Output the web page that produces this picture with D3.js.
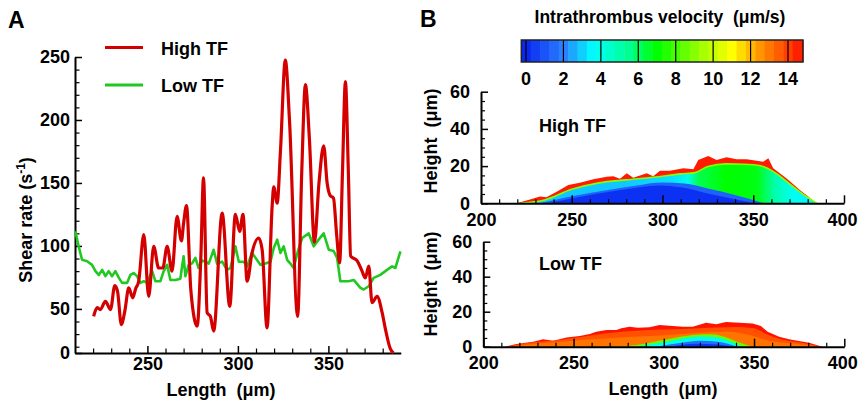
<!DOCTYPE html>
<html><head><meta charset="utf-8">
<script src="https://cdn.jsdelivr.net/npm/d3@7"></script>
<style>
body{margin:0;background:#fff;}
svg{display:block;font-family:"Liberation Sans",Arial,Helvetica,sans-serif;font-weight:bold;}
svg text{white-space:pre;}
</style></head><body>
<svg id="chart" width="858" height="400"></svg>
<script>
// ---------- Panel A data ----------
const highLength = [220.3,222.2,224,226.8,229.6,232,233.5,235.6,237.5,239.7,241.9,243.5,245.2,248,250.7,253.5,256.2,258.5,260.9,263.6,266.4,268.8,270,271.6,274,277.5,279.5,281,283,284.8,286.6,291.3,295.5,298.6,301,302.8,305.1,307.8,311.5,313.4,316.1,318.9,319.8,321.7,323.5,326.2,328.5,333,335.3,337.3,339.5,342.3,344.8,347.4,349.3,351,352.8,354.5,356.2,357.8,359.4,361,362.3,366,368.6,370.4,372.3,374.1,376.9,379.7,381.5,384.3,386];
const highShear  = [44,51,49.5,56,49.5,68.5,64,37.6,48,66.7,58.8,66,72,109,60,99.7,82.5,82.5,99.7,80,123.5,104,118,132,65,36.3,90,154,47,44,32.4,126,52,125,111.6,125,72,94.5,106.3,97,35,131,147,134,175,247.6,200,44,160,228,185,103,150,179.5,150,140,138,110,86.5,160,230.4,160,92,88,80,74.6,84,55,60,47,34,18,15];
const lowLength = [210.2,212,213.9,216.7,219.4,221.3,223.1,225,226.8,228.6,230.5,232.3,234.1,236,238.8,240.6,242.4,244.3,246.1,248,249.8,252.6,254.4,257.2,259,260.9,262.7,265.5,268.2,270,271,272.8,274.7,276.5,278.3,280.2,282,283.9,286.6,288.5,291.3,294,295.9,298.6,300.5,303.2,305.1,307.8,309.7,312.4,315.2,318,319.8,321.7,323.5,325.3,327.2,329,330.8,333,335.5,339.1,341.9,344.6,347.4,350.2,352.9,354.8,356.6,361.2,364,367.7,369.5,372.3,375,378.7,382.4,385.2,387,389.8];
const lowShear  = [111.6,99.7,89,87.8,85,80,77,81,76,80,76,80,75,70.7,70.7,77,78.5,76,70.7,72,70.7,80,72,72,80,85,73,73,74,91.8,76,85,86.2,90.5,82.5,88.5,87.5,86,97,86,87.5,81,82.5,99.7,87.5,87.5,83.8,94.5,90.6,85,86,87.5,98.4,105,94.5,99.7,89,86,82.5,95,106.3,110,99.7,105,110,97,96,90.5,72,72,73,66.7,65.4,68,74.6,77,81,83.8,82.5,95.7];
const seriesNames = ["High TF","Low TF"];
const lengthTicksA = [250,300,350];
const shearTickValues = [15,50,100,150,200,250];
const shearTickLabels = ["0","50","100","150","200","250"];

// ---------- Panel B data ([length, height]) ----------
const hiOuter = [[220.6,0],[220.6,0.3],[227,2.1],[232.5,3.6],[236,3.3],[241.7,6.2],[248.1,9.8],[254.5,11.1],[261.9,12.9],[269.3,14.3],[272.9,14.6],[276.6,13.2],[280.3,16.1],[283.9,13.7],[291.3,16.1],[294.9,14.6],[298.6,17.5],[304.1,17.5],[311.5,18.8],[317,18.3],[319.7,23.3],[325.2,25.4],[329.8,23.3],[335.3,24.7],[340.8,23.7],[346.3,23.7],[351.9,22.9],[355.5,22.4],[358.3,24.2],[361,18.8],[368.4,13.4],[375.7,7.2],[380.3,3.6],[384,0.3],[384,0]];
const hiInner = [[222,0],[235,1.8],[250,7.5],[265,11],[280,12.6],[295,14],[310,15.8],[318,16.5],[325,19.8],[335,21.2],[345,21],[354,20.2],[362,16.5],[370,10.5],[378,4.5],[385,0]];
const hiInnerVel = [[222,3.2],[245,2.9],[280,2.9],[305,3.2],[314,4],[320,6.2],[335,7],[352,6.8],[362,5],[372,3.8],[385,3.4]];
const hiHalo = [[232,0],[250,3.8],[270,7.2],[285,9.5],[300,11.2],[312,10.6],[325,8],[340,4.5],[350,1.8],[356,0]];
const hiCore = [[237,0],[252,3],[276,7],[298.6,9.6],[310,8.6],[326,5],[340.8,2],[350,0]];
const loOuter = [[212,0],[218.4,1.5],[227.6,2.9],[233.1,4.2],[238.7,3.4],[246.1,5.3],[253.4,6.1],[259,7.2],[262.6,8.6],[268.2,9.5],[273.7,9.5],[276.5,10.5],[281,11.4],[285.6,10.9],[292.1,11.1],[297.6,12.4],[305,11.8],[310.5,11.4],[316,11.4],[323.4,13.7],[329,12.9],[334.5,14.1],[341.8,13.7],[349.2,13.3],[353.8,11.8],[357.5,8.6],[363.9,5.7],[369.4,4.2],[374,3.4],[380.5,2.3],[387.8,0]];
const loMid = [[213,0],[225,2.3],[240,3.6],[252,5.2],[265,7.2],[280,8.8],[300,9.8],[320,10.6],[340,11.3],[350,10.5],[356,7.6],[365,4.3],[378,2],[388,0]];
const loInner = [[214,0],[230,1.8],[245,3],[260,4.2],[280,5.6],[300,6.6],[320,8],[335,8.6],[348,6.6],[358,3.4],[372,1.8],[387,0]];
const loLensOuter = [[266,0],[285,1],[298,3.5],[310,5.8],[318,6.9],[326,7.1],[334,5.6],[342,2.4],[349,0]];
const loLensMid = [[284,0],[300,2.5],[310,4.6],[320,5.8],[328,5.5],[336,3.3],[344,0]];
const loLensInner = [[296,0],[310,2.3],[320,3.4],[330,2.9],[341,0]];
const loLensCore = [[303,0],[318,1.7],[330,1.3],[339,0]];
const layerVel = {hiOuter:14.6, hiBand:9, hiHalo:1.3, hiCore:0.2, loOuter:14.7, loMid:13.7, loInner:13.1, loLensOuter:8.5, loLensMid:4, loLensInner:1.6, loLensCore:0.3};
const velocityTicks = [0,2,4,6,8,10,12,14];
const lengthTicksB = [200,250,300,350,400];
const heightTicksB = [0,20,40,60];

// colour map (Tecplot-like rainbow)
const velDomain = [0,2,3.6,5.5,7,9.5,11,12.5,14,15];
const velColors = ["#0a28f0","#2a80ff","#00ffff","#00ff90","#00ff00","#a8ff00","#ffff00","#ff9600","#ff4000","#ff0000"];
const vel = d3.scaleLinear().domain(velDomain).range(velColors).clamp(true);

const svg = d3.select("#chart");
const FONT = 18;

function styleAxis(g, sw){
  g.attr("font-family",null).attr("font-size",FONT).attr("font-weight","bold");
  g.selectAll(".domain").attr("stroke","#000").attr("stroke-width",2);
  g.selectAll(".tick line").attr("stroke","#000").attr("stroke-width",sw||1.5);
  g.selectAll(".tick text").attr("fill","#000");
}

// ================= PANEL A =================
const xA = d3.scaleLinear().domain([210,390]).range([75,400.8]);
const yA = d3.scaleLinear().domain([15,250]).range([353,57]);

svg.append("text").attr("x",8).attr("y",28).attr("font-size",23).text("A");

svg.append("g").attr("transform","translate(0,353)")
  .call(d3.axisBottom(xA).tickValues(d3.range(220,390,10).filter(v=>!lengthTicksA.includes(v))).tickSizeInner(-4.5).tickSizeOuter(0).tickFormat(""))
  .call(g=>{g.select(".domain").remove(); styleAxis(g,1.2);});
svg.append("g").attr("transform","translate(75,0)")
  .call(d3.axisLeft(yA).tickValues(d3.range(20,250,10).filter(v=>v%50!==0)).tickSizeInner(-4.5).tickSizeOuter(0).tickFormat(""))
  .call(g=>{g.select(".domain").remove(); styleAxis(g,1.2);});
svg.append("g").attr("transform","translate(0,353)")
  .call(d3.axisBottom(xA).tickValues(lengthTicksA).tickSizeInner(-7).tickSizeOuter(0).tickPadding(4).tickFormat(d3.format("d")))
  .call(g=>styleAxis(g));
svg.append("g").attr("transform","translate(75,0)")
  .call(d3.axisLeft(yA).tickValues(shearTickValues).tickSizeInner(-7).tickSizeOuter(0).tickPadding(5)
    .tickFormat(d=>shearTickLabels[shearTickValues.indexOf(d)]))
  .call(g=>styleAxis(g));

const lineA = d3.line().x(d=>xA(d[0])).y(d=>yA(d[1]));
const redCol = "#d40000", greenCol = "#22c822";
svg.append("path").datum(lowLength.map((v,i)=>[v,lowShear[i]]))
  .attr("d",lineA).attr("fill","none").attr("stroke",greenCol).attr("stroke-width",2.6).attr("stroke-linejoin","round");
svg.append("path").datum(highLength.map((v,i)=>[v,highShear[i]]))
  .attr("d",lineA.curve(d3.curveMonotoneX)).attr("fill","none").attr("stroke",redCol).attr("stroke-width",3.2).attr("stroke-linejoin","round");

const leg = svg.append("g");
[[redCol,47.5,55],[greenCol,85,91.7]].forEach((c,i)=>{
  leg.append("line").attr("x1",105).attr("x2",143).attr("y1",c[1]).attr("y2",c[1]).attr("stroke",c[0]).attr("stroke-width",3.2);
  leg.append("text").attr("x",161).attr("y",c[2]).attr("font-size",FONT).text(seriesNames[i]);
});

svg.append("text").attr("x",221).attr("y",396).attr("text-anchor","middle").attr("font-size",FONT).text("Length  (μm)");
const yt = svg.append("text").attr("transform","translate(32,220) rotate(-90)").attr("text-anchor","middle").attr("font-size",FONT);
yt.append("tspan").text("Shear rate (s");
yt.append("tspan").attr("font-size",12).attr("dy",-7).text("-1");
yt.append("tspan").attr("dy",7).text(")");

// ================= PANEL B =================
svg.append("text").attr("x",420).attr("y",27).attr("font-size",23).text("B");
svg.append("text").attr("x",660).attr("y",23).attr("text-anchor","middle").attr("font-size",17.5).text("Intrathrombus velocity  (μm/s)");

const cb = d3.scaleLinear().domain([0,14]).range([526,788]);
const cbTop = 40, cbH = 22;
const bandEdges = d3.range(-0.25,14.8,0.5).concat([14.8]);
const cbg = svg.append("g");
for(let i=0;i<bandEdges.length-1;i++){
  const a=bandEdges[i], b=bandEdges[i+1];
  cbg.append("rect").attr("x",cb(a)).attr("y",cbTop).attr("width",cb(b)-cb(a)+0.5).attr("height",cbH)
    .attr("fill",vel((a+b)/2));
}
cbg.selectAll("line.sep").data(velocityTicks).join("line").attr("class","sep")
  .attr("x1",d=>cb(d)).attr("x2",d=>cb(d)).attr("y1",cbTop).attr("y2",cbTop+cbH).attr("stroke","#000").attr("stroke-width",1.2);
cbg.append("rect").attr("x",cb(-0.25)).attr("y",cbTop).attr("width",cb(14.8)-cb(-0.25)).attr("height",cbH)
  .attr("fill","none").attr("stroke","#222").attr("stroke-width",1.5);
cbg.selectAll("text").data(velocityTicks).join("text").attr("x",d=>cb(d)).attr("y",85)
  .attr("text-anchor","middle").attr("font-size",FONT).text(d=>d);

function subplot(cfg){
  const x = d3.scaleLinear().domain([200,400]).range(cfg.xr);
  const y = d3.scaleLinear().domain([0,60]).range(cfg.yr);
  const g = svg.append("g");
  const area = d3.area().x(d=>x(d[0])).y0(y(0)).y1(d=>y(d[1]));
  const smooth = d3.area().x(d=>x(d[0])).y0(y(0)).y1(d=>y(d[1])).curve(d3.curveMonotoneX);
  cfg.draw(g, x, y, area, smooth);
  g.append("g").attr("transform",`translate(0,${cfg.yr[0]})`)
    .call(d3.axisBottom(x).tickValues(d3.range(210,400,10).filter(v=>v%50!==0)).tickSizeInner(-4).tickSizeOuter(0).tickFormat(""))
    .call(a=>{a.select(".domain").remove(); styleAxis(a,1.2);});
  g.append("g").attr("transform",`translate(${cfg.xr[0]},0)`)
    .call(d3.axisLeft(y).tickValues(d3.range(5,60,5).filter(v=>v%20!==0)).tickSizeInner(-4).tickSizeOuter(0).tickFormat(""))
    .call(a=>{a.select(".domain").remove(); styleAxis(a,1.2);});
  g.append("g").attr("transform",`translate(0,${cfg.yr[0]})`)
    .call(d3.axisBottom(x).tickValues(lengthTicksB).tickSizeInner(-8).tickSizeOuter(0).tickPadding(10).tickFormat(d3.format("d")))
    .call(a=>{styleAxis(a);
      a.selectAll(".tick text").filter(d=>d===400).attr("text-anchor","end").attr("dx",13);});
  g.append("g").attr("transform",`translate(${cfg.xr[0]},0)`)
    .call(d3.axisLeft(y).tickValues(heightTicksB).tickSizeInner(-7).tickSizeOuter(0).tickPadding(11).tickFormat(d3.format("d")))
    .call(a=>styleAxis(a));
  g.append("text").attr("x",539).attr("y",cfg.labelY).attr("font-size",FONT).text(cfg.label);
  g.append("text").attr("transform",`translate(437,${cfg.titleY}) rotate(-90)`).attr("text-anchor","middle")
    .attr("font-size",FONT).text("Height  (μm)");
}

const defs = svg.append("defs");

subplot({xr:[481,844], yr:[203.3,91.7], label:"High TF", labelY:131.7, titleY:141,
  draw:(g,x,y,area,smooth)=>{
    g.append("path").datum(hiOuter).attr("d",area).attr("fill",vel(layerVel.hiOuter));
    const grad = defs.append("linearGradient").attr("id","hiGrad").attr("gradientUnits","userSpaceOnUse")
      .attr("x1",x(hiInnerVel[0][0])).attr("x2",x(hiInnerVel[hiInnerVel.length-1][0])).attr("y1",0).attr("y2",0);
    const x0 = hiInnerVel[0][0], x1 = hiInnerVel[hiInnerVel.length-1][0];
    hiInnerVel.forEach(d=>grad.append("stop").attr("offset",(d[0]-x0)/(x1-x0)).attr("stop-color",vel(d[1])));
    g.append("path").datum(hiInner).attr("d",smooth).attr("fill","url(#hiGrad)");
    g.append("path").datum(hiInner).attr("d",d3.line().x(d=>x(d[0])).y(d=>y(d[1])).curve(d3.curveMonotoneX))
      .attr("fill","none").attr("stroke",vel(layerVel.hiBand)).attr("stroke-width",1.6);
    g.append("path").datum(hiHalo).attr("d",smooth).attr("fill",vel(layerVel.hiHalo));
    g.append("path").datum(hiCore).attr("d",smooth).attr("fill",vel(layerVel.hiCore));
  }});

subplot({xr:[483.3,844.3], yr:[346.7,241.7], label:"Low TF", labelY:270, titleY:284,
  draw:(g,x,y,area,smooth)=>{
    g.append("path").datum(loOuter).attr("d",area).attr("fill",vel(layerVel.loOuter));
    g.append("path").datum(loMid).attr("d",smooth).attr("fill",vel(layerVel.loMid));
    g.append("path").datum(loInner).attr("d",smooth).attr("fill",vel(layerVel.loInner));
    g.append("path").datum(loLensOuter).attr("d",smooth).attr("fill",vel(layerVel.loLensOuter));
    g.append("path").datum(loLensMid).attr("d",smooth).attr("fill",vel(layerVel.loLensMid));
    g.append("path").datum(loLensInner).attr("d",smooth).attr("fill",vel(layerVel.loLensInner));
    g.append("path").datum(loLensCore).attr("d",smooth).attr("fill",vel(layerVel.loLensCore));
  }});

svg.append("text").attr("x",663).attr("y",395).attr("text-anchor","middle").attr("font-size",FONT).text("Length  (μm)");
</script>
</body></html>
